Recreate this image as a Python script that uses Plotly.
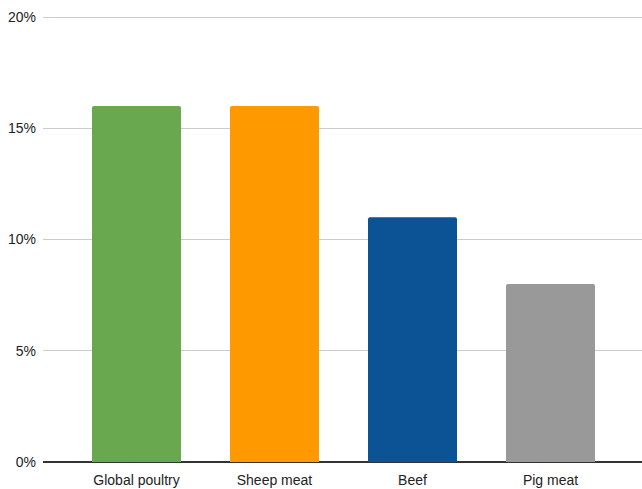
import plotly.graph_objects as go

categories = ["Global poultry", "Sheep meat", "Beef", "Pig meat"]
values = [0.16, 0.16, 0.11, 0.08]
colors = ["#6aa84f", "#ff9900", "#0b5394", "#999999"]
y_ticks = [0, 0.05, 0.10, 0.15, 0.20]
y_tick_labels = ["0%", "5%", "10%", "15%", "20%"]

fig = go.Figure(
    go.Bar(
        x=list(range(len(categories))),
        y=values,
        marker=dict(color=colors, line=dict(width=0), cornerradius=2),
        width=0.645,
    )
)

fig.update_layout(
    width=642,
    height=489,
    margin=dict(l=43, r=0, t=15, b=27),
    paper_bgcolor="white",
    plot_bgcolor="white",
    showlegend=False,
    font=dict(family="Liberation Sans, Arial, sans-serif", size=14, color="#222222"),
    xaxis=dict(
        tickmode="array",
        tickvals=list(range(len(categories))),
        ticktext=categories,
        range=[-0.6775, 3.663],
        showgrid=False,
        zeroline=False,
        showline=False,
        ticks="",
        ticklabelstandoff=8,
    ),
    yaxis=dict(
        range=[0, 0.2009],
        tickmode="array",
        tickvals=y_ticks,
        ticktext=y_tick_labels,
        showgrid=True,
        gridcolor="#cccccc",
        gridwidth=1,
        zeroline=True,
        zerolinecolor="#333333",
        zerolinewidth=1.5,
        showline=False,
        ticks="",
        ticklabelstandoff=6,
    ),
)

fig.write_html("out.html")
